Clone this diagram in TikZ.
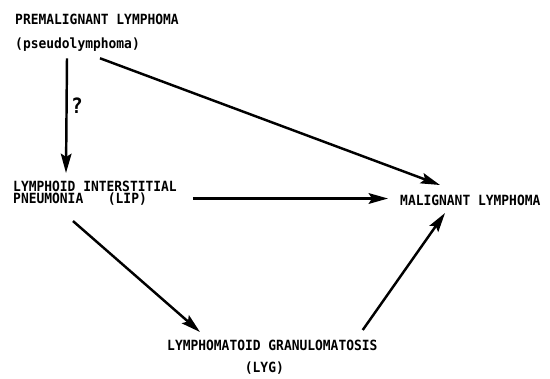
\documentclass[tikz,border=0pt]{standalone}
\usepackage{fontspec}
\newfontfamily\diagfont{DejaVu Sans Mono}[FakeStretch=0.92]
\usetikzlibrary{arrows.meta}

\begin{document}
\begin{tikzpicture}[
    x=0.3mm, y=-0.3mm,
    >=Stealth,
    term/.style={inner sep=0pt, align=left, font=\diagfont\bfseries\fontsize{12}{#1}\selectfont},
    term/.default=13,
    link/.style={line width=2.1pt, -{Stealth[length=5.8mm, width=3.2mm, inset=1mm]}}
]
\useasboundingbox (0,0) rectangle (550,378);
\node[term=20, anchor=north west] (pre) at (15,14) {PREMALIGNANT LYMPHOMA\\(pseudolymphoma)};
\node[term=10.5, anchor=north west] (lip) at (13,181) {LYMPHOID INTERSTITIAL\\PNEUMONIA\hspace{21pt}(LIP)};
\node[term, anchor=base west] (mal) at (400,205) {MALIGNANT LYMPHOMA};
\node[term=19, align=center, anchor=north west] (lyg) at (167,340) {LYMPHOMATOID GRANULOMATOSIS\\(LYG)\hspace*{4.8mm}};
\node[inner sep=0pt, font=\diagfont\bfseries\fontsize{18}{18}\selectfont] (q) at (77,106) {?};

\draw[link] ([shift={(52,7)}]pre.south west) -- ([shift={(53,-8)}]lip.north west);
\draw[link] ([shift={(85,7)}]pre.south west) -- ([shift={(40,-20)}]mal.base west);
\draw[link] ([shift={(16,17.5)}]lip.north east) -- ([shift={(-12,-6.5)}]mal.base west);
\draw[link] ([shift={(60,15)}]lip.south west) -- ([shift={(33,-8)}]lyg.north west);
\draw[link] ([shift={(-15,-10)}]lyg.north east) -- ([shift={(45,8)}]mal.base west);
\end{tikzpicture}
\end{document}
